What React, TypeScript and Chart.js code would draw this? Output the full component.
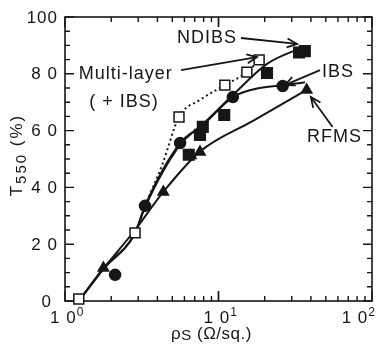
import React, { useEffect, useRef } from "react";
import { Chart, registerables } from "chart.js";

Chart.register(...registerables);

// ---- measured data (x: sheet resistance, Ω/sq. ; y: T550 %) ----
const multiX = [1.23, 2.86, 5.53, 11.0, 15.3, 18.4];
const multiY = [0.7, 24, 64.8, 76, 80.6, 84.9];

const ndibsX = [6.4, 7.57, 7.9, 10.9, 20.7, 33.5, 36.5];
const ndibsY = [51.5, 58.5, 61.3, 65.5, 80.3, 87.5, 88];

const ibsX = [2.12, 3.32, 5.62, 12.4, 26.2];
const ibsY = [9.2, 33.5, 55.6, 71.8, 75.7];

const rfmsX = [1.78, 4.37, 6.6, 7.57, 37.5];
const rfmsY = [11.6, 38.4, 51.2, 52.5, 74.3];

// fitted curves drawn through the data
const ndibsCurveX = [1.23, 1.78, 2.86, 3.32, 5.62, 7.57, 12.4, 20.7, 35.4];
const ndibsCurveY = [0, 11.6, 24, 33.5, 55.6, 61.3, 72.5, 83.5, 89.4];
const ibsCurveX = [1.23, 1.78, 2.86, 3.32, 5.62, 8.2, 12.4, 18.6, 27, 36.6];
const ibsCurveY = [0, 11.2, 23.8, 33, 55, 62.7, 71.8, 75, 76, 77];
const rfmsCurveX = [1.23, 1.78, 2.86, 4.37, 7.57, 16.9, 37.5];
const rfmsCurveY = [0, 11.4, 25, 38.4, 52.6, 63.5, 74.3];
const multiCurveX = [3.32, 4.3, 5.53, 7.57, 11.0, 15.3, 18.4];
const multiCurveY = [33.5, 48, 64.8, 70.8, 76, 80.6, 84.9];

// ---- axes ----
const yTickValues = [0, 20, 40, 60, 80, 100];
const yTickLabels = ["0", "2 0", "4 0", "6 0", "8 0", "100"];
const xTickValues = [1, 10, 100];
const xTickBase = ["1 0", "1 0", "1 0"];
const xTickExp = ["0", "1", "2"];

// ---- annotations ----
const annLabels = ["NDIBS", "IBS", "RFMS"];
const annTextX = [8.42, 60, 57];
const annTextY = [92.6, 80.5, 57.6];
const annFromX = [14.0, 45.9, 55.4];
const annFromY = [92.6, 81.3, 61.3];
const annToX = [32.5, 27.0, 40.0];
const annToY = [90.5, 76.0, 71.8];
const multiLabel = ["Multi-layer", "( + IBS)"];
const multiLabelX = [2.49, 2.42];
const multiLabelY = [79.9, 70];
const multiArrow = [5.7, 81.3, 17.8, 85.9];

const FONT = '"Liberation Sans", Arial, Helvetica, sans-serif';
const INK = "#161616";

const pts = (xs: number[], ys: number[]) => xs.map((x, i) => ({ x, y: ys[i] }));

function arrow(ctx: CanvasRenderingContext2D, x1: number, y1: number, x2: number, y2: number) {
  ctx.beginPath();
  ctx.moveTo(x1, y1);
  ctx.lineTo(x2, y2);
  ctx.stroke();
  const ang = Math.atan2(y2 - y1, x2 - x1);
  const L = 11;
  const h = 0.42;
  ctx.beginPath();
  ctx.moveTo(x2 - L * Math.cos(ang - h), y2 - L * Math.sin(ang - h));
  ctx.lineTo(x2, y2);
  ctx.lineTo(x2 - L * Math.cos(ang + h), y2 - L * Math.sin(ang + h));
  ctx.stroke();
}

const framePlugin = {
  id: "frame",
  beforeDatasetsDraw(chart: any) {
    const { ctx, chartArea: a, scales } = chart;
    const x = scales.x;
    const y = scales.y;
    ctx.save();
    ctx.strokeStyle = INK;
    ctx.lineWidth = 1.6;
    ctx.strokeRect(a.left, a.top, a.right - a.left, a.bottom - a.top);
    ctx.lineWidth = 1.4;
    for (let v = 0; v <= 100; v += 5) {
      const py = y.getPixelForValue(v);
      const len = v % 20 === 0 ? 9 : 5;
      ctx.beginPath();
      ctx.moveTo(a.left, py);
      ctx.lineTo(a.left + len, py);
      ctx.moveTo(a.right, py);
      ctx.lineTo(a.right - len, py);
      ctx.stroke();
    }
    for (const d of [1, 10]) {
      for (let m = 1; m <= 10; m++) {
        const v = m * d;
        const px = x.getPixelForValue(v);
        const len = m === 1 || m === 10 ? 10 : 5;
        ctx.beginPath();
        ctx.moveTo(px, a.bottom);
        ctx.lineTo(px, a.bottom - len);
        ctx.moveTo(px, a.top);
        ctx.lineTo(px, a.top + len);
        ctx.stroke();
      }
    }
    ctx.restore();
  },
  afterDraw(chart: any) {
    const { ctx, chartArea: a, scales } = chart;
    const x = scales.x;
    const y = scales.y;
    ctx.save();
    ctx.fillStyle = INK;
    ctx.strokeStyle = INK;
    // y tick labels
    ctx.font = `17px ${FONT}`;
    (ctx as any).letterSpacing = "1px";
    ctx.textAlign = "right";
    ctx.textBaseline = "middle";
    yTickValues.forEach((v, i) => {
      const py = y.getPixelForValue(v) + 1;
      const off = v === 0 ? 13 : 7;
      ctx.fillText(yTickLabels[i], a.left - off, py);
    });
    // x tick labels with exponents
    ctx.textAlign = "left";
    ctx.textBaseline = "alphabetic";
    xTickValues.forEach((v, i) => {
      const px = x.getPixelForValue(v);
      ctx.font = `17px ${FONT}`;
      const wb = ctx.measureText(xTickBase[i]).width;
      ctx.font = `12px ${FONT}`;
      const we = ctx.measureText(xTickExp[i]).width;
      let left = px - 15;
      if (left + wb + we > a.right + 4) left = a.right + 4 - wb - we;
      ctx.font = `17px ${FONT}`;
      ctx.fillText(xTickBase[i], left, a.bottom + 22);
      ctx.font = `12px ${FONT}`;
      ctx.fillText(xTickExp[i], left + wb, a.bottom + 15);
    });
    // x title: ρS (Ω/sq.)
    (ctx as any).letterSpacing = "0.5px";
    ctx.font = `17px ${FONT}`;
    const p1 = "\u03c1";
    const p3 = " (\u03a9/sq.)";
    const w1 = ctx.measureText(p1).width;
    const w3 = ctx.measureText(p3).width;
    ctx.font = `15px ${FONT}`;
    const w2 = ctx.measureText("S").width;
    const tw = w1 + w2 + w3;
    const cx = (a.left + a.right) / 2 - 7;
    const tx = cx - tw / 2;
    const tb = a.bottom + 38;
    ctx.font = `17px ${FONT}`;
    ctx.fillText(p1, tx, tb);
    ctx.font = `15px ${FONT}`;
    ctx.fillText("S", tx + w1, tb + 1);
    ctx.font = `17px ${FONT}`;
    ctx.fillText(p3, tx + w1 + w2, tb);
    // y title: T550 (%)
    ctx.save();
    ctx.translate(22, (a.top + a.bottom) / 2 - 4);
    ctx.rotate(-Math.PI / 2);
    ctx.textAlign = "left";
    (ctx as any).letterSpacing = "2px";
    ctx.font = `17px ${FONT}`;
    const q1 = "T";
    const q3 = " (%)";
    const u1 = ctx.measureText(q1).width;
    const u3 = ctx.measureText(q3).width;
    ctx.font = `15px ${FONT}`;
    const u2 = ctx.measureText("550").width;
    const sx = -(u1 + u2 + u3) / 2;
    ctx.font = `17px ${FONT}`;
    ctx.fillText(q1, sx, 0);
    ctx.font = `15px ${FONT}`;
    ctx.fillText("550", sx + u1, 4);
    ctx.font = `17px ${FONT}`;
    ctx.fillText(q3, sx + u1 + u2, 0);
    ctx.restore();

    // annotations
    (ctx as any).letterSpacing = "1px";
    ctx.font = `18px ${FONT}`;
    ctx.textAlign = "center";
    ctx.textBaseline = "middle";
    ctx.lineWidth = 1.8;
    annLabels.forEach((lab, i) => {
      ctx.fillText(lab, x.getPixelForValue(annTextX[i]), y.getPixelForValue(annTextY[i]));
      arrow(
        ctx,
        x.getPixelForValue(annFromX[i]),
        y.getPixelForValue(annFromY[i]),
        x.getPixelForValue(annToX[i]),
        y.getPixelForValue(annToY[i])
      );
    });
    multiLabel.forEach((lab, i) => {
      ctx.fillText(lab, x.getPixelForValue(multiLabelX[i]), y.getPixelForValue(multiLabelY[i]));
    });
    arrow(
      ctx,
      x.getPixelForValue(multiArrow[0]),
      y.getPixelForValue(multiArrow[1]),
      x.getPixelForValue(multiArrow[2]),
      y.getPixelForValue(multiArrow[3])
    );
    ctx.restore();
  },
};

export default function App() {
  const ref = useRef<HTMLCanvasElement | null>(null);
  useEffect(() => {
    if (!ref.current) return;
    const curve = (xs: number[], ys: number[], dash: number[] = []) => ({
      data: pts(xs, ys),
      showLine: true,
      borderColor: INK,
      borderWidth: 2,
      borderDash: dash,
      pointRadius: 0,
      cubicInterpolationMode: "monotone" as const,
      fill: false,
      clip: false as any,
      order: 2,
    });
    const marks = (xs: number[], ys: number[], style: string, r: number, filled: boolean) => ({
      data: pts(xs, ys),
      showLine: false,
      pointStyle: style,
      pointRadius: r,
      pointBackgroundColor: filled ? INK : "#ffffff",
      pointBorderColor: INK,
      pointBorderWidth: 1.5,
      clip: false as any,
      order: 1,
    });
    const chart = new Chart(ref.current, {
      type: "scatter",
      data: {
        datasets: [
          curve(ndibsCurveX, ndibsCurveY),
          curve(ibsCurveX, ibsCurveY),
          curve(rfmsCurveX, rfmsCurveY),
          curve(multiCurveX, multiCurveY, [2, 3]),
          marks(ndibsX, ndibsY, "rect", 7.5, true),
          marks(ibsX, ibsY, "circle", 5.5, true),
          marks(rfmsX, rfmsY, "triangle", 6, true),
          marks(multiX, multiY, "rect", 7, false),
        ] as any,
      },
      options: {
        responsive: false,
        animation: false,
        events: [],
        layout: { padding: { top: 17, right: 18, left: 0, bottom: 0 } },
        plugins: { legend: { display: false }, tooltip: { enabled: false } },
        scales: {
          x: {
            type: "logarithmic",
            min: 1,
            max: 100,
            ticks: { display: false },
            grid: { display: false },
            border: { display: false },
            afterFit: (s: any) => {
              s.height = 43;
            },
          },
          y: {
            type: "linear",
            min: 0,
            max: 100,
            ticks: { display: false },
            grid: { display: false },
            border: { display: false },
            afterFit: (s: any) => {
              s.width = 65;
            },
          },
        } as any,
      },
      plugins: [framePlugin],
    });
    return () => chart.destroy();
  }, []);
  return (
    <div style={{ position: "absolute", left: 0, top: 0, width: 390, height: 344, background: "#fff" }}>
      <canvas ref={ref} width={390} height={344} style={{ display: "block" }} />
    </div>
  );
}
